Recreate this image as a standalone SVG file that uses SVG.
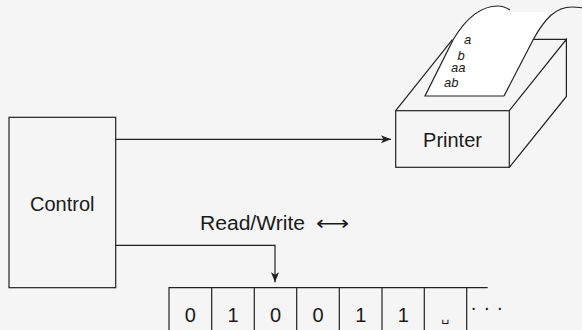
<svg xmlns="http://www.w3.org/2000/svg" width="582" height="330" viewBox="0 0 582 330">
  <defs>
    <style>
      .ln { fill: none; stroke: #222; stroke-width: 1.2; stroke-linejoin: miter; }
      .face { fill: #f5f5f5; stroke: #222; stroke-width: 1.2; }
      .lbl { font-family: "Liberation Sans", Arial, sans-serif; font-size: 20px; fill: #1a1a1a; }
      .cell { font-family: "Liberation Sans", Arial, sans-serif; font-size: 20px; fill: #1a1a1a; text-anchor: middle; }
      .word { font-family: "Liberation Sans", Arial, sans-serif; font-size: 13px; font-style: italic; fill: #1a1a1a; }
      .wire { fill: none; stroke: #222; stroke-width: 1.2; }
    </style>
    <marker id="head" viewBox="-11 -5 12 10" refX="0" refY="0" markerWidth="12" markerHeight="10" markerUnits="userSpaceOnUse" orient="auto">
      <path d="M-10,-4 L0,0 L-10,4 L-7.5,0 Z" fill="#222"/>
    </marker>
  </defs>

  <rect width="582" height="330" fill="#f5f5f5"/>

  <!-- control unit -->
  <g id="control">
    <rect class="face" x="9" y="117.3" width="106.7" height="170.4"/>
    <text class="lbl" x="62.3" y="210.7" text-anchor="middle">Control</text>
  </g>

  <!-- printer: box in perspective with paper coming out of the slot -->
  <g id="printer">
    <rect class="face" x="395.7" y="110.7" width="113.6" height="56.6"/>
    <path class="ln" d="M395.7,110.7 L452.4,39.7"/>
    <path class="ln" d="M509.3,110.7 L566.4,39.3 L566.4,96.5 L509.3,167.3"/>
    <path class="ln" d="M533,39.3 H566.4"/>
    <!-- paper sheet -->
    <path d="M425,96 L504,96 L533,40 C540,28 546,19 552,11.7 L510,11.7 L510,10 C507,8 503,6 498,6 C480,6 466,18 453,40 Z" fill="#ffffff"/>
    <path class="ln" d="M504,96 H425 L453,40 C466,18 480,6 498,6 C503,6 507,8 510,10"/>
    <path class="ln" d="M504,96 L533,40 C545,18 556,7 572,7 C576,7 580,7.5 584,8"/>
    <text class="word" x="464" y="44">a</text>
    <text class="word" x="457.5" y="59.5">b</text>
    <text class="word" x="451" y="72">aa</text>
    <text class="word" x="444" y="87.3">ab</text>
    <text class="lbl" x="452.5" y="146.7" text-anchor="middle">Printer</text>
  </g>

  <!-- tape -->
  <g id="tape">
    <path class="ln" d="M487.7,287.7 H169 V332 M211.7,287.7 V332 M254.3,287.7 V332 M296.7,287.7 V332 M339.3,287.7 V332 M382,287.7 V332 M424.3,287.7 V332 M466.7,287.7 V332"/>
    <text class="cell" x="190.3" y="321.5">0</text>
    <text class="cell" x="233" y="321.5">1</text>
    <text class="cell" x="275.5" y="321.5">0</text>
    <text class="cell" x="318" y="321.5">0</text>
    <text class="cell" x="360.7" y="321.5">1</text>
    <text class="cell" x="403.2" y="321.5">1</text>
    <text x="445.5" y="320.5" text-anchor="middle" font-family="'DejaVu Sans', sans-serif" font-size="13" fill="#1a1a1a">␣</text>
    <text x="470.3" y="314" font-family="'Liberation Sans', Arial, sans-serif" font-size="20" letter-spacing="6.5" fill="#1a1a1a">···</text>
  </g>

  <!-- head label -->
  <g id="rw-label">
    <text class="lbl" x="200" y="230"><tspan textLength="105" lengthAdjust="spacingAndGlyphs">Read/Write</tspan><tspan x="316" font-family="'DejaVu Sans', sans-serif" textLength="33" lengthAdjust="spacingAndGlyphs">⟷</tspan></text>
  </g>

  <!-- connectors -->
  <g id="connectors">
    <path class="wire" d="M115.7,139.3 H391" marker-end="url(#head)"/>
    <path class="wire" d="M115.7,245.3 H275 V282.3" marker-end="url(#head)"/>
  </g>
</svg>
